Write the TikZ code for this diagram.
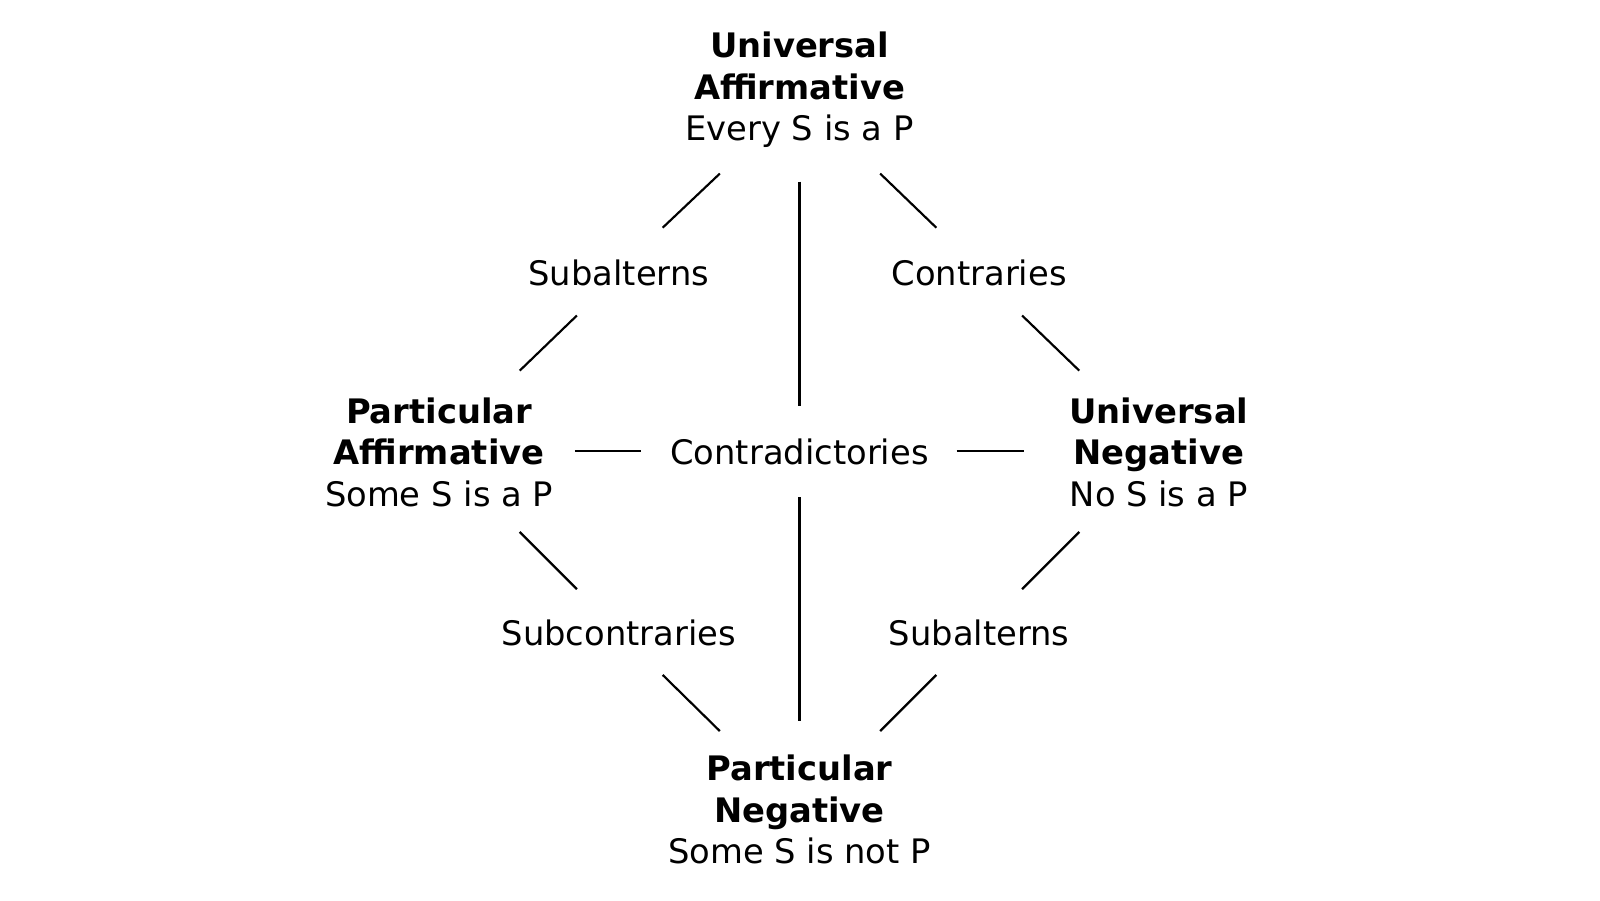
\documentclass[tikz,border=0pt]{standalone}
\usepackage{fontspec}
\setmainfont{DejaVu Sans}
\begin{document}
\begin{tikzpicture}[x=0.01cm,y=-0.01cm]
  \tikzset{corner/.style={align=center,font=\fontsize{9.4}{11.6}\selectfont},
           rel/.style={font=\fontsize{9.4}{11.6}\selectfont},
           link/.style={black,line width=0.6pt}}
  \useasboundingbox (0,0) rectangle (1567,882);
  % the four propositions
  \node [corner] (ua) at (783,88) {\textbf{Universal}\\\textbf{Affirmative}\\Every S is a P};
  \node [corner] (pa) at (430,443) {\textbf{Particular}\\\textbf{Affirmative}\\Some S is a P};
  \node [corner] (un) at (1135,443) {\textbf{Universal}\\\textbf{Negative}\\No S is a P};
  \node [corner] (pn) at (783,793) {\textbf{Particular}\\\textbf{Negative}\\Some S is not P};
  % relations
  \node [rel] (subl) at (606,267) {Subalterns};
  \node [rel] (contr) at (959,267) {Contraries};
  \node [rel] (contd) at (783,443) {Contradictories};
  \node [rel] (subc) at (606,620) {Subcontraries};
  \node [rel] (subr) at (959,620) {Subalterns};
  % line ends
  \coordinate (a1) at (705,170); \coordinate (a2) at (649,223);
  \coordinate (a3) at (565,309); \coordinate (a4) at (509,363);
  \coordinate (b1) at (862,170); \coordinate (b2) at (917,223);
  \coordinate (b3) at (1001,309); \coordinate (b4) at (1057,363);
  \coordinate (c1) at (783,178); \coordinate (c2) at (783,398);
  \coordinate (c3) at (783,487); \coordinate (c4) at (783,706);
  \coordinate (d1) at (563,442); \coordinate (d2) at (628,442);
  \coordinate (d3) at (937,442); \coordinate (d4) at (1003,442);
  \coordinate (e1) at (509,521); \coordinate (e2) at (565,577);
  \coordinate (e3) at (649,661); \coordinate (e4) at (705,716);
  \coordinate (f1) at (1057,521); \coordinate (f2) at (1001,577);
  \coordinate (f3) at (917,661); \coordinate (f4) at (862,716);
  \foreach \p/\q in {a1/a2,a3/a4,b1/b2,b3/b4,c1/c2,c3/c4,d1/d2,d3/d4,e1/e2,e3/e4,f1/f2,f3/f4}
    \draw [link] (\p) -- (\q);
\end{tikzpicture}
\end{document}
